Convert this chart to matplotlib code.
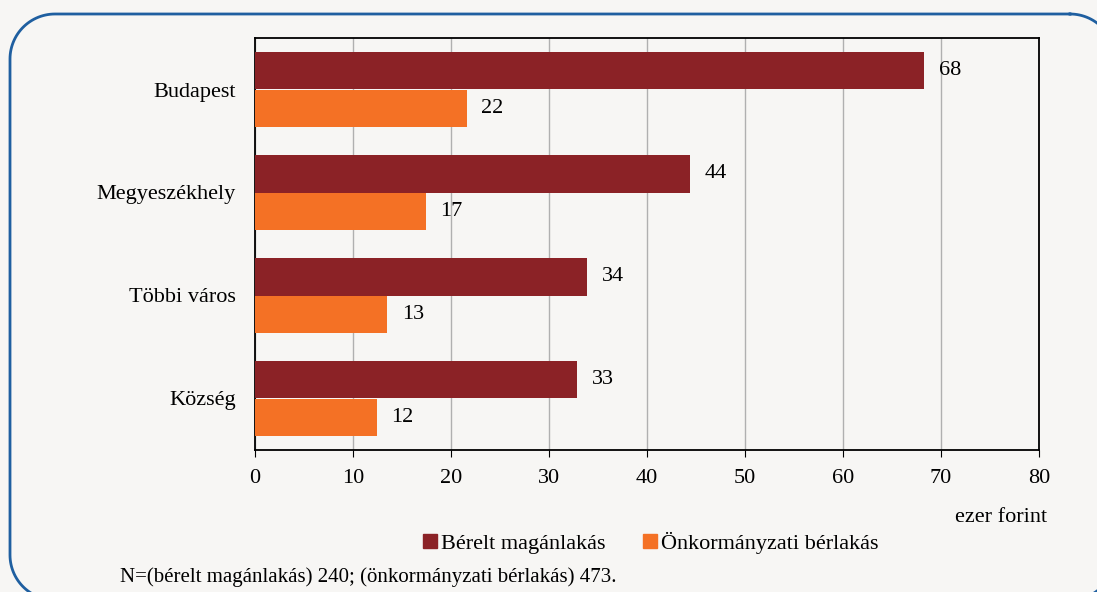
import numpy as np
import matplotlib
matplotlib.use('Agg')
import matplotlib.pyplot as plt
from matplotlib.patches import Patch

plt.rcParams['font.family'] = ['Liberation Serif', 'DejaVu Serif']
plt.rcParams['font.size'] = 16

categories = ['Budapest', 'Megyeszékhely', 'Többi város', 'Község']
private_rent = [68.3, 44.4, 33.9, 32.9]
council_rent = [21.6, 17.4, 13.5, 12.4]
private_labels = ['68', '44', '34', '33']
council_labels = ['22', '17', '13', '12']
series_names = ['Bérelt magánlakás', 'Önkormányzati bérlakás']
note = 'N=(bérelt magánlakás) 240; (önkormányzati bérlakás) 473.'

bg = '#f7f6f4'
dark = '#8b2226'
orange = '#f47125'

fig = plt.figure(figsize=(10.97, 5.92), dpi=100, facecolor=bg)

# rounded frame, pixel coordinates with y pointing down
bgax = fig.add_axes([0, 0, 1, 1], zorder=-1)
bgax.set_xlim(0, 1097)
bgax.set_ylim(592, 0)
bgax.axis('off')
x0, x1, y0, y1, r = 10, 1115, 14, 600, 45
xs, ys = [], []
for cx, cy, a0 in [(x1 - r, y0 + r, -90), (x1 - r, y1 - r, 0), (x0 + r, y1 - r, 90), (x0 + r, y0 + r, 180)]:
    t = np.radians(np.linspace(a0, a0 + 90, 30))
    xs.extend(cx + r * np.cos(t))
    ys.extend(cy + r * np.sin(t))
xs.append(xs[0])
ys.append(ys[0])
bgax.plot(xs, ys, color='#1f5fa0', lw=2)

ax = fig.add_axes([255 / 1097, 1 - 450 / 592, (1039 - 255) / 1097, (450 - 38) / 592])
ax.set_facecolor(bg)

y = np.arange(len(categories))
h = 0.36
ax.barh(y - h / 2, private_rent, height=h, color=dark, zorder=3)
ax.barh(y + h / 2, council_rent, height=h, color=orange, zorder=3)

for i in range(len(categories)):
    ax.text(private_rent[i] + 1.5, y[i] - h / 2, private_labels[i], va='center', ha='left')
    ax.text(council_rent[i] + 1.5, y[i] + h / 2, council_labels[i], va='center', ha='left')

ax.set_ylim(3.5, -0.5)
ax.set_xlim(0, 80)
ax.set_xticks(range(0, 81, 10))
ax.set_yticks(y)
ax.set_yticklabels(categories)
ax.tick_params(axis='y', length=0, pad=14)
ax.tick_params(axis='x', length=5, pad=9)
ax.grid(axis='x', color='#b0b0b0', lw=1, zorder=0)
for s in ax.spines.values():
    s.set_color('black')
    s.set_linewidth(1.3)

fig.text(1047 / 1097, 1 - 517 / 592, 'ezer forint', ha='right', va='center')

handles = [Patch(color=dark), Patch(color=orange)]
fig.legend(handles, series_names, loc='center', bbox_to_anchor=(651 / 1097, 1 - 543 / 592),
           ncol=2, frameon=False, handlelength=0.6, handleheight=0.6,
           handletextpad=0.2, columnspacing=1.7, fontsize=16)

fig.text(120 / 1097, 1 - 577 / 592, note, ha='left', va='center', fontsize=15)

fig.savefig('out.png', dpi=100, facecolor=bg)
